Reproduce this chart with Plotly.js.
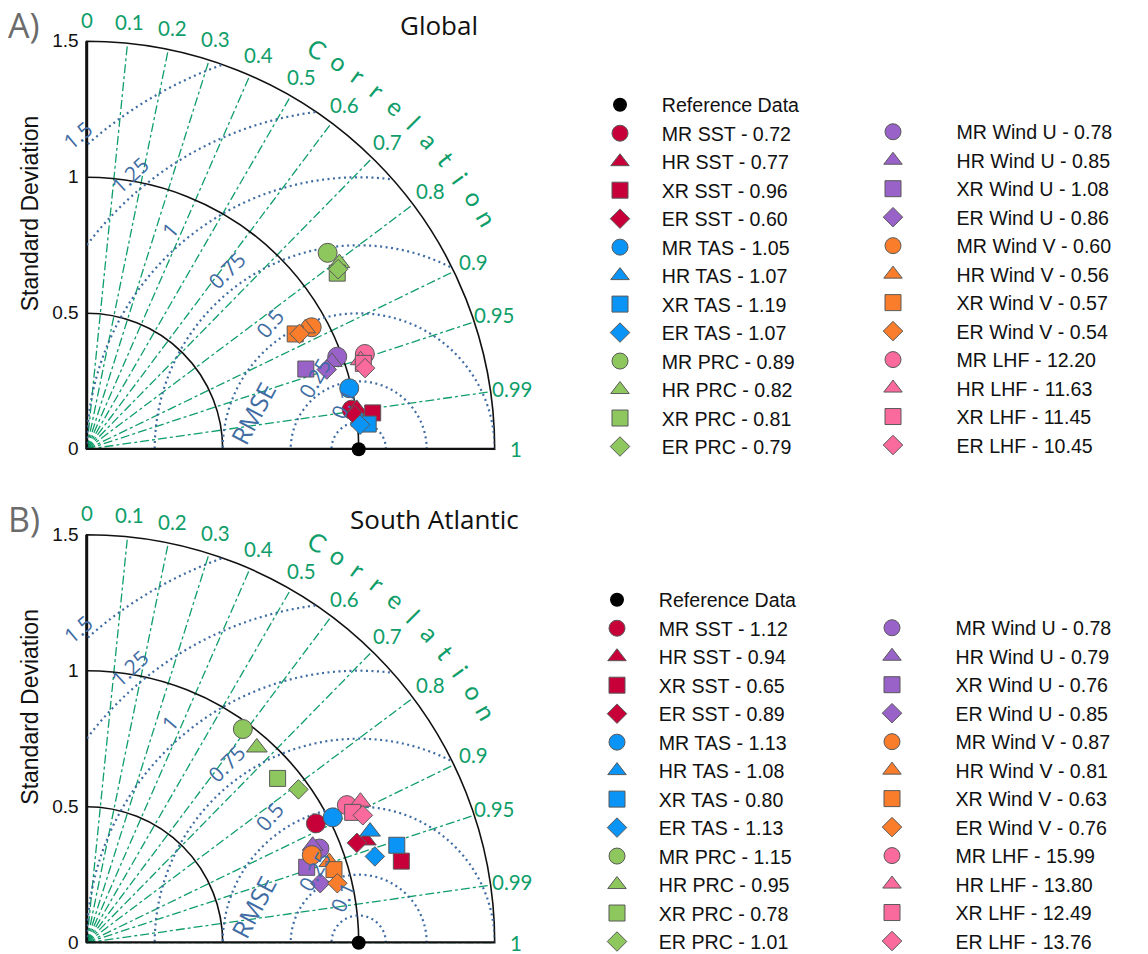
<!DOCTYPE html>
<html><head><meta charset="utf-8">
<script src="https://cdn.plot.ly/plotly-3.0.1.min.js"></script>
<style>html,body{margin:0;padding:0;background:#fff}#chart{width:1148px;height:954px}</style>
</head><body><div id="chart"></div>
<script>
// ---------------- DATA ----------------
const models = ['MR', 'HR', 'XR', 'ER'];
const variables = ['SST', 'TAS', 'PRC', 'Wind U', 'Wind V', 'LHF'];
const corrTicks = [0, 0.1, 0.2, 0.3, 0.4, 0.5, 0.6, 0.7, 0.8, 0.9, 0.95, 0.99, 1];
const stdTicks = [0, 0.5, 1, 1.5];
const rmseLevels = [0.1, 0.25, 0.5, 0.75, 1, 1.25, 1.5];
const refStd = 1.0;
const refCorr = 1.0;

// order: SST(MR,HR,XR,ER), TAS, PRC, Wind U, Wind V, LHF
const globalStd  = [0.985, 1.004, 1.060, 0.994,  0.991, 1.016, 1.039, 1.009,  1.143, 1.154, 1.126, 1.137,
                    0.982, 0.957, 0.858, 0.930,  0.941, 0.918, 0.876, 0.890,  1.081, 1.059, 1.065, 1.066];
const globalCorr = [0.989, 0.989, 0.992, 0.992,  0.974, 0.995, 0.996, 0.996,  0.775, 0.805, 0.818, 0.813,
                    0.938, 0.942, 0.939, 0.949,  0.879, 0.875, 0.875, 0.879,  0.946, 0.951, 0.955, 0.960];
const globalScore = [0.72, 0.77, 0.96, 0.60,  1.05, 1.07, 1.19, 1.07,  0.89, 0.82, 0.81, 0.79,
                     0.78, 0.85, 1.08, 0.86,  0.60, 0.56, 0.57, 0.54,  12.20, 11.63, 11.45, 10.45];

const southStd  = [0.950, 1.093, 1.195, 1.059,  1.015, 1.119, 1.195, 1.106,  0.973, 0.952, 0.926, 0.961,
                   0.923, 0.904, 0.855, 0.886,  0.888, 0.940, 0.948, 0.947,  1.082, 1.132, 1.089, 1.118];
const southCorr = [0.887, 0.939, 0.968, 0.938,  0.891, 0.931, 0.954, 0.958,  0.590, 0.657, 0.758, 0.810,
                   0.927, 0.919, 0.946, 0.969,  0.932, 0.949, 0.959, 0.973,  0.884, 0.889, 0.898, 0.908];
const southScore = [1.12, 0.94, 0.65, 0.89,  1.13, 1.08, 0.80, 1.13,  1.15, 0.95, 0.78, 1.01,
                    0.78, 0.79, 0.76, 0.85,  0.87, 0.81, 0.63, 0.76,  15.99, 13.80, 12.49, 13.76];

// ---------------- STYLE ----------------
const varColors = ['#c8003a', '#0a94f5', '#8dc75d', '#9962c9', '#f97d2b', '#fb6a9c'];
const modelSymbols = ['circle', 'triangle-up', 'square', 'diamond'];
const modelSizes = [19, 18, 16, 15];
const GREEN = '#0f9e6a';
const BLUE = '#3f6ca3';
const W = 1148, H = 954;
const panels = [
  {key: 'polar',  dom: {x: [86.7 / W, 494.7 / W], y: [(H - 449.3) / H, (H - 41.3) / H]}},
  {key: 'polar2', dom: {x: [86.7 / W, 494.7 / W], y: [(H - 942.7) / H, (H - 534.7) / H]}}
];
const rmseLabelPos = [[0.942, 0.168, 65], [0.839, 0.262, 60], [0.674, 0.464, 50], [0.516, 0.659, 45],
                      [0.306, 0.806, 50], [0.159, 1.009, 43], [-0.032, 1.155, 40]];

const deg = c => Math.acos(Math.max(-1, Math.min(1, c))) * 180 / Math.PI;
const PAD_L = '\u00a0\u00a0\u00a0\u00a0';
const PAD_R = '\u00a0\u00a0\u00a0\u00a0\u00a0\u00a0\u00a0\u00a0';

function toPaper(p, xd, yd) {
  const d = panels[p].dom;
  return [d.x[0] + xd / 1.5 * (d.x[1] - d.x[0]), d.y[0] + yd / 1.5 * (d.y[1] - d.y[0])];
}

const traces = [];
function addPanel(p, stdArr, corrArr, scoreArr, legL, legR) {
  const sub = panels[p].key;
  // RMSE circles centred on the reference point
  rmseLevels.forEach(R => {
    const rr = [], tt = [];
    for (let a = 0; a <= 180; a += 0.5) {
      const x = refStd + R * Math.cos(a * Math.PI / 180), y = R * Math.sin(a * Math.PI / 180);
      rr.push(Math.sqrt(x * x + y * y)); tt.push(Math.atan2(y, x) * 180 / Math.PI);
    }
    traces.push({type: 'scatterpolar', subplot: sub, r: rr, theta: tt, mode: 'lines',
      line: {color: BLUE, width: 2.2, dash: '2px,3.5px'}, showlegend: false, hoverinfo: 'skip', cliponaxis: true});
  });
  // bottom axis line (correlation = 1)
  traces.push({type: 'scatterpolar', subplot: sub, r: [0, stdTicks[stdTicks.length - 1]], theta: [0, 0], mode: 'lines',
    line: {color: '#111', width: 3}, showlegend: false, hoverinfo: 'skip', cliponaxis: false});
  variables.forEach((v, vi) => models.forEach((m, mi) => {
    const k = vi * 4 + mi;
    traces.push({type: 'scatterpolar', subplot: sub, r: [stdArr[k]], theta: [deg(corrArr[k])], mode: 'markers',
      name: (vi < 3 ? PAD_L : PAD_R) + m + ' ' + v + ' - ' + scoreArr[k].toFixed(2),
      legend: vi < 3 ? legL : legR, cliponaxis: false,
      marker: {symbol: modelSymbols[mi], size: modelSizes[mi], color: varColors[vi], line: {color: '#595959', width: 1}}});
  }));
  traces.push({type: 'scatterpolar', subplot: sub, r: [refStd], theta: [deg(refCorr)], mode: 'markers',
    name: PAD_L + 'Reference Data', legend: legL, legendrank: 1, cliponaxis: false,
    marker: {symbol: 'circle', size: 14, color: '#000'}});
}
addPanel(0, globalStd, globalCorr, globalScore, 'legend', 'legend2');
addPanel(1, southStd, southCorr, southScore, 'legend3', 'legend4');

function polarLayout(p) {
  return {
    domain: panels[p].dom, sector: [0, 90], bgcolor: 'rgba(0,0,0,0)',
    radialaxis: {range: [0, 1.5], angle: 90, tickangle: 90, tickmode: 'array', tickvals: stdTicks, ticktext: stdTicks.map(String),
      side: 'counterclockwise', showline: true, linecolor: '#111', linewidth: 3, gridcolor: '#111', gridwidth: 1.6,
      ticks: '', tickfont: {family: 'Liberation Sans, Arial, sans-serif', size: 19, color: '#111'}, layer: 'below traces'},
    angularaxis: {rotation: 0, direction: 'counterclockwise', thetaunit: 'degrees', tickmode: 'array',
      tickvals: corrTicks.map(deg), ticktext: corrTicks.map(String), showticklabels: false,
      showline: true, linecolor: '#111', linewidth: 1.6,
      gridcolor: GREEN, gridwidth: 1.3, griddash: 'dashdot', ticks: '', layer: 'below traces'}
  };
}

const annotations = [];
const titles = ['Global', 'South Atlantic'];
const tags = ['A)', 'B)'];
[0, 1].forEach(p => {
  const top = panels[p].dom.y[1];
  annotations.push({xref: 'paper', yref: 'paper', x: (p === 0 ? 398 : 348) / W, y: top + 16 / H, xanchor: 'left', yanchor: 'middle',
    text: titles[p], showarrow: false, font: {family: 'Open Sans, sans-serif', size: 26, color: '#111'}});
  annotations.push({xref: 'paper', yref: 'paper', x: 6 / W, y: Math.min(1, top + 41 / H), xanchor: 'left', yanchor: 'top',
    text: tags[p], showarrow: false, font: {family: 'Open Sans, sans-serif', size: 34, color: '#6b6b6b'}});
  annotations.push({xref: 'paper', yref: 'paper', x: 30 / W, y: top - 172 / H, xanchor: 'center', yanchor: 'middle',
    text: 'Standard Deviation', textangle: -90, showarrow: false,
    font: {family: 'Liberation Sans, Arial, sans-serif', size: 23, color: '#111'}});
  // correlation tick labels, centred on their rays just outside the arc
  corrTicks.forEach(c => {
    const th = deg(c) * Math.PI / 180;
    const xy = toPaper(p, 1.58 * Math.cos(th), 1.58 * Math.sin(th));
    annotations.push({xref: 'paper', yref: 'paper', x: xy[0], y: xy[1], xanchor: 'center', yanchor: 'middle',
      text: String(c), showarrow: false, font: {family: 'Lato, sans-serif', size: 20.5, color: GREEN}});
  });
  // Correlation label along the arc
  const word = 'Correlation';
  for (let i = 0; i < word.length; i++) {
    const th = 60 - i * 3;
    const xy = toPaper(p, 1.70 * Math.cos(th * Math.PI / 180), 1.70 * Math.sin(th * Math.PI / 180));
    annotations.push({xref: 'paper', yref: 'paper', x: xy[0], y: xy[1], xanchor: 'center', yanchor: 'middle',
      text: word[i], textangle: 90 - th, showarrow: false, font: {family: 'Lato, sans-serif', size: 25, color: GREEN}});
  }
  // RMSE labels
  rmseLevels.forEach((R, i) => {
    const pos = rmseLabelPos[i];
    const xy = toPaper(p, pos[0], pos[1]);
    annotations.push({xref: 'paper', yref: 'paper', x: xy[0], y: xy[1], xanchor: 'center', yanchor: 'middle',
      text: String(R), textangle: -pos[2], showarrow: false, font: {family: 'Open Sans, sans-serif', size: 21, color: BLUE}});
  });
  const rx = toPaper(p, 0.611, 0.133);
  annotations.push({xref: 'paper', yref: 'paper', x: rx[0], y: rx[1], xanchor: 'center', yanchor: 'middle',
    text: 'RMSE', textangle: -62, showarrow: false, font: {family: 'Open Sans, sans-serif', size: 25, color: BLUE}});
});

const legFont = {family: 'Liberation Sans, Arial, sans-serif', size: 19.6, color: '#111'};
function leg(xpx, ytoppx) {
  return {x: xpx / W, y: (H - ytoppx) / H, xanchor: 'left', yanchor: 'top', font: legFont,
    bgcolor: 'rgba(0,0,0,0)', borderwidth: 0, tracegroupgap: 0, itemclick: false, itemdoubleclick: false};
}

const layout = {
  width: W, height: H, margin: {l: 0, r: 0, t: 0, b: 0, autoexpand: false},
  paper_bgcolor: '#fff', showlegend: true,
  polar: polarLayout(0), polar2: polarLayout(1),
  legend: leg(600, 85.5), legend2: leg(873, 112.5),
  legend3: leg(597, 580.5), legend4: leg(872, 608.5),
  annotations: annotations
};
Plotly.newPlot('chart', traces, layout, {displayModeBar: false, staticPlot: true});
</script></body></html>
